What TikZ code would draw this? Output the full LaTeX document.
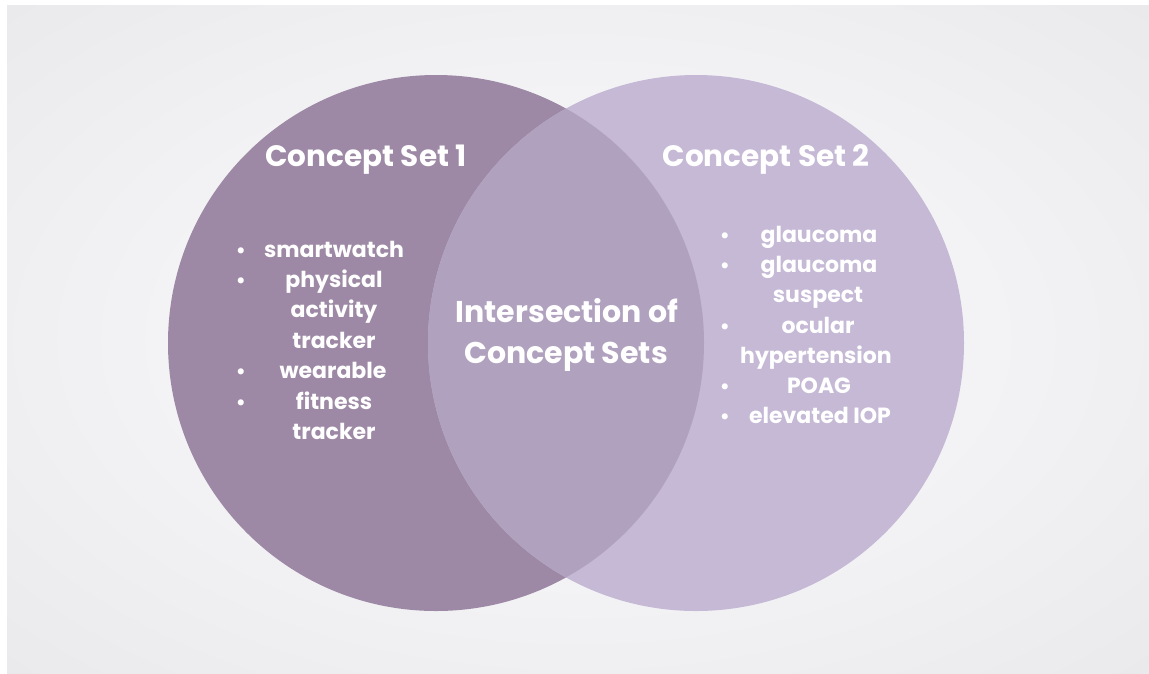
\documentclass[tikz,border=0pt]{standalone}
\usepackage{fontspec}
\setmainfont{Poppins}
\definecolor{bgout}{HTML}{E5E5E8}
\definecolor{bgin}{HTML}{F3F3F5}
\definecolor{setone}{HTML}{9D89A5}
\definecolor{settwo}{HTML}{C5B9D6}
\definecolor{setboth}{HTML}{B0A2BF}
\pgfdeclareradialshading{glow}{\pgfpoint{0bp}{0bp}}{color(0bp)=(bgin); color(18bp)=(bgin); color(45bp)=(bgout); color(50bp)=(bgout)}
\begin{document}
\begin{tikzpicture}[x=1pt,y=-1pt,
  title/.style={text=white,font=\bfseries\fontsize{29.5}{42}\selectfont,align=center,inner sep=0pt},
  item/.style={text=white,font=\bfseries\fontsize{22}{30}\selectfont,anchor=base,inner sep=0pt},
  bul/.style={text=white,font=\bfseries\fontsize{20}{30}\selectfont,anchor=base,inner sep=0pt},
  venn/.style={circle,minimum size=536pt,inner sep=0pt}]
\useasboundingbox (0,0) rectangle (1149,673);
\fill[white] (0,0) rectangle (1149,673);
\shade[shading=glow] (7,5) rectangle (1149,673);
% circles
\node[venn, fill=setone] (c1) at (436,343) {};
\node[venn, fill=settwo] (c2) at (696,343) {};
\begin{scope}
  \clip (c1.center) circle (268pt);
  \fill[setboth] (c2.center) circle (268pt);
\end{scope}
% titles
\node[title,anchor=base] (t1) at (366,166) {Concept Set 1};
\node[title,anchor=base] (t2) at (766,166) {Concept Set 2};
\node[title,anchor=base,font=\bfseries\fontsize{30}{42}\selectfont] (t3a) at (567,322) {Intersection of};
\node[title,anchor=base,font=\bfseries\fontsize{30}{42}\selectfont] (t3b) at (566,363) {Concept Sets};
% left list
\node[bul] (lb1) at (241,257) {\textbullet};
\node[bul] (lb2) at (241,287) {\textbullet};
\node[bul] (lb3) at (241,378) {\textbullet};
\node[bul] (lb4) at (241,409) {\textbullet};
\node[item] (l1) at (334,257) {smartwatch};
\node[item] (l2) at (334,287) {physical};
\node[item] (l3) at (334,317) {activity};
\node[item] (l4) at (334,348) {tracker};
\node[item] (l5) at (333,378) {wearable};
\node[item] (l6) at (334,409) {fitness};
\node[item] (l7) at (334,439) {tracker};
% right list
\node[bul] (rb1) at (725,242) {\textbullet};
\node[bul] (rb2) at (725,272) {\textbullet};
\node[bul] (rb3) at (725,333) {\textbullet};
\node[bul] (rb4) at (725,393) {\textbullet};
\node[bul] (rb5) at (725,423) {\textbullet};
\node[item] (r1) at (819,242) {glaucoma};
\node[item] (r2) at (819,272) {glaucoma};
\node[item] (r3) at (818,302) {suspect};
\node[item] (r4) at (818,333) {ocular};
\node[item] (r5) at (816,363) {hypertension};
\node[item] (r6) at (819,393) {POAG};
\node[item] (r7) at (820,423) {elevated IOP};
\end{tikzpicture}
\end{document}
